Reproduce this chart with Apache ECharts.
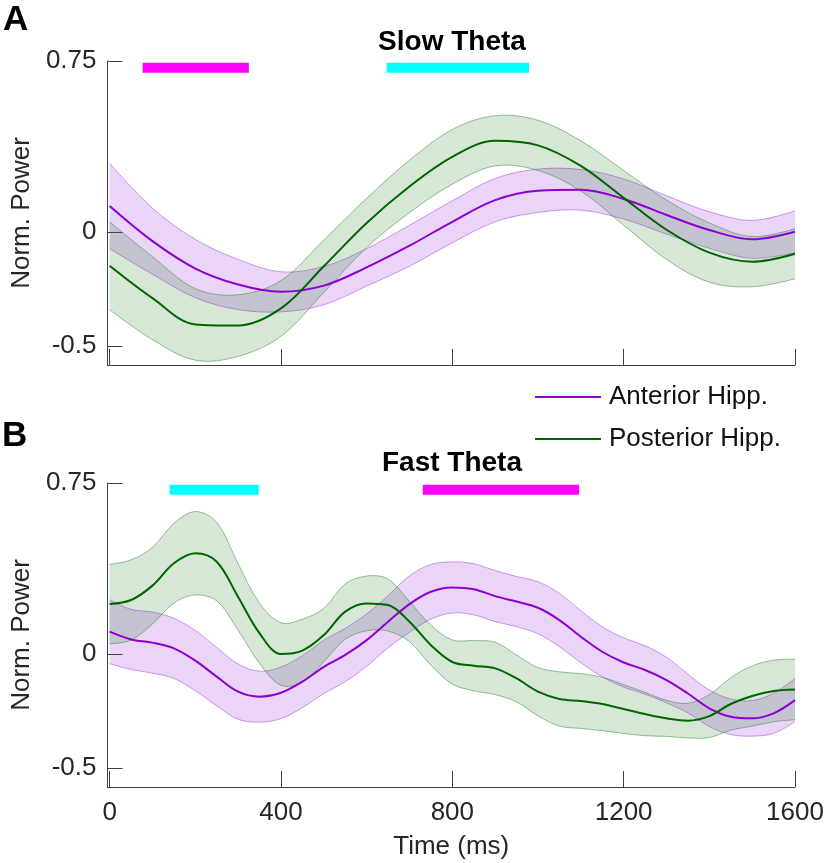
<!DOCTYPE html>
<html>
<head>
<meta charset="utf-8">
<script src="https://cdn.jsdelivr.net/npm/echarts@6.0.0/dist/echarts.min.js"></script>
<style>
  html, body { margin: 0; padding: 0; background: #fff; }
  #main { width: 826px; height: 863px; }
</style>
</head>
<body>
<div id="main"></div>
<script>
// ---- data ----
const slowTime = [0, 100, 200, 300, 400, 500, 600, 700, 800, 900, 1000, 1100, 1200, 1300, 1400, 1500, 1600];
const slowAntMean = [0.114, -0.04, -0.16, -0.23, -0.262, -0.235, -0.155, -0.06, 0.045, 0.14, 0.181, 0.185, 0.145, 0.075, 0.009, -0.032, 0.001];
const slowAntSem = [0.187, 0.145, 0.128, 0.11, 0.088, 0.084, 0.082, 0.09, 0.092, 0.095, 0.095, 0.089, 0.088, 0.084, 0.08, 0.083, 0.092];
const slowPostMean = [-0.148, -0.29, -0.405, -0.41, -0.335, -0.15, 0.04, 0.2, 0.33, 0.4, 0.38, 0.29, 0.15, 0.01, -0.09, -0.13, -0.095];
const slowPostSem = [0.193, 0.182, 0.157, 0.135, 0.122, 0.115, 0.108, 0.115, 0.12, 0.11, 0.11, 0.11, 0.12, 0.13, 0.13, 0.11, 0.11];

const fastTime = [0, 50, 100, 150, 200, 250, 300, 350, 400, 450, 500, 550, 600, 650, 700, 750, 800,
  850, 900, 950, 1000, 1050, 1100, 1150, 1200, 1250, 1300, 1350, 1400, 1450, 1500, 1550, 1600];
const fastAntMean = [0.098, 0.064, 0.05, 0.025, -0.029, -0.099, -0.165, -0.187, -0.17, -0.121, -0.056, -0.004, 0.061, 0.142, 0.219, 0.273, 0.292,
  0.284, 0.254, 0.23, 0.203, 0.149, 0.076, 0.01, -0.037, -0.07, -0.114, -0.173, -0.238, -0.275, -0.282, -0.26, -0.202];
const fastAntSem = [0.14, 0.132, 0.134, 0.132, 0.132, 0.128, 0.121, 0.112, 0.113, 0.114, 0.117, 0.117, 0.115, 0.114, 0.124, 0.12, 0.112,
  0.112, 0.112, 0.11, 0.114, 0.117, 0.114, 0.11, 0.108, 0.106, 0.1, 0.085, 0.08, 0.078, 0.078, 0.088, 0.095];
const fastPostMean = [0.219, 0.237, 0.3, 0.398, 0.442, 0.405, 0.25, 0.091, 0.0, 0.015, 0.083, 0.186, 0.222, 0.215, 0.142, 0.039, -0.035,
  -0.051, -0.063, -0.107, -0.165, -0.197, -0.206, -0.219, -0.241, -0.263, -0.282, -0.292, -0.272, -0.219, -0.184, -0.162, -0.155];
const fastPostSem = [0.174, 0.176, 0.168, 0.175, 0.183, 0.172, 0.146, 0.132, 0.137, 0.138, 0.117, 0.121, 0.12, 0.114, 0.088, 0.088, 0.097,
  0.11, 0.115, 0.103, 0.106, 0.119, 0.12, 0.117, 0.107, 0.095, 0.079, 0.076, 0.094, 0.115, 0.132, 0.135, 0.133];

// significance bars [start, end] in ms
const slowMagentaBar = [77, 325];
const slowCyanBar = [647, 979];
const fastCyanBar = [140, 348];
const fastMagentaBar = [731, 1096];
const barLevel = 0.72;

const xTicks = [0, 400, 800, 1200, 1600];
const xTickLabels = ['0', '400', '800', '1200', '1600'];
const yTicks = [-0.5, 0, 0.75];
const yTickLabels = ['-0.5', '0', '0.75'];

// ---- styles ----
const FONT = 'Liberation Sans, Arial, Helvetica, sans-serif';
const SMOOTH = 0.35;
const axisColor = '#404040';
const textColor = '#262626';
const antColor = '#8C00D4';
const postColor = '#006400';
const antFill = 'rgba(150, 40, 220, 0.2)';
const antEdge = 'rgba(150, 40, 220, 0.45)';
const postFill = 'rgba(30, 120, 30, 0.18)';
const postEdge = 'rgba(30, 120, 30, 0.45)';

const chart = echarts.init(document.getElementById('main'), null, { renderer: 'canvas' });

// bezier path through pixel points, same control-point rule as a smoothed line series
function smoothPath(pts, start) {
  let d = (start ? 'M' : 'L') + pts[0][0] + ' ' + pts[0][1];
  const n = pts.length;
  const ctrl = pts.map((p, i) => {
    if (i === 0 || i === n - 1) return [p, p];
    const a = pts[i - 1], b = pts[i + 1];
    const vx = b[0] - a[0], vy = b[1] - a[1];
    const d0 = Math.hypot(p[0] - a[0], p[1] - a[1]);
    const d1 = Math.hypot(b[0] - p[0], b[1] - p[1]);
    const r = d1 / (d0 + d1);
    return [
      [p[0] - vx * SMOOTH * (1 - r), p[1] - vy * SMOOTH * (1 - r)],
      [p[0] + vx * SMOOTH * r, p[1] + vy * SMOOTH * r]
    ];
  });
  for (let i = 0; i < n - 1; i++) {
    const c1 = ctrl[i][1], c2 = ctrl[i + 1][0], q = pts[i + 1];
    d += ' C' + c1[0] + ' ' + c1[1] + ' ' + c2[0] + ' ' + c2[1] + ' ' + q[0] + ' ' + q[1];
  }
  return d;
}

function band(idx, time, mean, sem, fill, edge) {
  const rows = time.map((t, i) => [t, mean[i] - sem[i], mean[i] + sem[i]]);
  return {
    type: 'custom', xAxisIndex: idx, yAxisIndex: idx, silent: true, z: 1,
    data: rows,
    encode: { x: 0, y: [1, 2] },
    renderItem: (params, api) => {
      if (params.dataIndex !== 0) return null;
      const up = rows.map(r => api.coord([r[0], r[2]]));
      const lo = rows.map(r => api.coord([r[0], r[1]]));
      const loRev = lo.slice().reverse();
      return {
        type: 'group',
        children: [
          { type: 'path', shape: { pathData: smoothPath(up, true) + ' ' + smoothPath(loRev, false) + ' Z' }, style: { fill: fill, stroke: null } },
          { type: 'path', shape: { pathData: smoothPath(up, true) }, style: { fill: null, stroke: edge, lineWidth: 1 } },
          { type: 'path', shape: { pathData: smoothPath(lo, true) }, style: { fill: null, stroke: edge, lineWidth: 1 } }
        ]
      };
    }
  };
}

function meanLine(idx, name, time, mean, color) {
  return {
    type: 'line', name: name, xAxisIndex: idx, yAxisIndex: idx,
    data: time.map((t, i) => [t, mean[i]]),
    smooth: SMOOTH, symbol: 'none', z: 3,
    lineStyle: { color: color, width: 2 }, itemStyle: { color: color }
  };
}

function sigBar(idx, range, color) {
  return {
    type: 'line', name: 'sig', xAxisIndex: idx, yAxisIndex: idx,
    data: [[range[0], barLevel], [range[1], barLevel]],
    symbol: 'none', silent: true, z: 4,
    lineStyle: { color: color, width: 10, cap: 'butt' }
  };
}

function xAxis(idx, showLabels) {
  return {
    gridIndex: idx, type: 'value', min: -5, max: 1600,
    axisLine: { show: true, onZero: false, lineStyle: { color: axisColor, width: 1 } },
    axisTick: { show: true, inside: true, length: 16, customValues: xTicks, lineStyle: { color: axisColor } },
    axisLabel: {
      show: showLabels, customValues: xTicks, margin: 13,
      fontSize: 26, fontFamily: FONT, color: textColor,
      formatter: v => xTickLabels[xTicks.indexOf(v)] ?? String(v)
    },
    splitLine: { show: false },
    name: showLabels ? 'Time (ms)' : '',
    nameLocation: 'middle', nameGap: 47,
    nameTextStyle: { fontSize: 26, fontFamily: FONT, color: textColor }
  };
}

function yAxis(idx) {
  return {
    gridIndex: idx, type: 'value', min: -0.583, max: 0.75,
    axisLine: { show: true, onZero: false, lineStyle: { color: axisColor, width: 1 } },
    axisTick: { show: true, inside: true, length: 15, customValues: yTicks, lineStyle: { color: axisColor } },
    axisLabel: {
      customValues: yTicks, margin: 11,
      fontSize: 26, fontFamily: FONT, color: textColor,
      formatter: v => yTickLabels[yTicks.indexOf(v)] ?? String(v)
    },
    splitLine: { show: false },
    name: 'Norm. Power', nameLocation: 'middle', nameGap: 70, nameRotate: 90,
    nameTextStyle: { fontSize: 26, fontFamily: FONT, color: textColor }
  };
}

const option = {
  animation: false,
  backgroundColor: '#fff',
  grid: [
    { left: 107.5, top: 61, width: 687.5, height: 304, outerBoundsMode: 'none' },
    { left: 107.5, top: 483, width: 687.5, height: 304, outerBoundsMode: 'none' }
  ],
  xAxis: [xAxis(0, false), xAxis(1, true)],
  yAxis: [yAxis(0), yAxis(1)],
  legend: {
    data: ['Anterior Hipp.', 'Posterior Hipp.'],
    orient: 'vertical', left: 530, top: 379,
    icon: 'rect', itemWidth: 66, itemHeight: 2, itemGap: 16,
    textStyle: { fontSize: 26, fontFamily: FONT, color: '#111', padding: [0, 0, 0, 3] },
    selectedMode: false
  },
  graphic: [
    { type: 'text', x: 3, y: 20, style: { text: 'A', font: 'bold 35px ' + FONT, fill: '#000', textVerticalAlign: 'middle' } },
    { type: 'text', x: 2, y: 436, style: { text: 'B', font: 'bold 35px ' + FONT, fill: '#000', textVerticalAlign: 'middle' } },
    { type: 'text', x: 452, y: 42, style: { text: 'Slow Theta', font: 'bold 28px ' + FONT, fill: '#000', textAlign: 'center', textVerticalAlign: 'middle' } },
    { type: 'text', x: 452, y: 463, style: { text: 'Fast Theta', font: 'bold 28px ' + FONT, fill: '#000', textAlign: 'center', textVerticalAlign: 'middle' } }
  ],
  series: [
    band(0, slowTime, slowAntMean, slowAntSem, antFill, antEdge),
    band(0, slowTime, slowPostMean, slowPostSem, postFill, postEdge),
    band(1, fastTime, fastAntMean, fastAntSem, antFill, antEdge),
    band(1, fastTime, fastPostMean, fastPostSem, postFill, postEdge),
    meanLine(0, 'Anterior Hipp.', slowTime, slowAntMean, antColor),
    meanLine(0, 'Posterior Hipp.', slowTime, slowPostMean, postColor),
    meanLine(1, 'Anterior Hipp.', fastTime, fastAntMean, antColor),
    meanLine(1, 'Posterior Hipp.', fastTime, fastPostMean, postColor),
    sigBar(0, slowMagentaBar, '#FF00FF'),
    sigBar(0, slowCyanBar, '#00FFFF'),
    sigBar(1, fastCyanBar, '#00FFFF'),
    sigBar(1, fastMagentaBar, '#FF00FF')
  ]
};

chart.setOption(option);
</script>
</body>
</html>
